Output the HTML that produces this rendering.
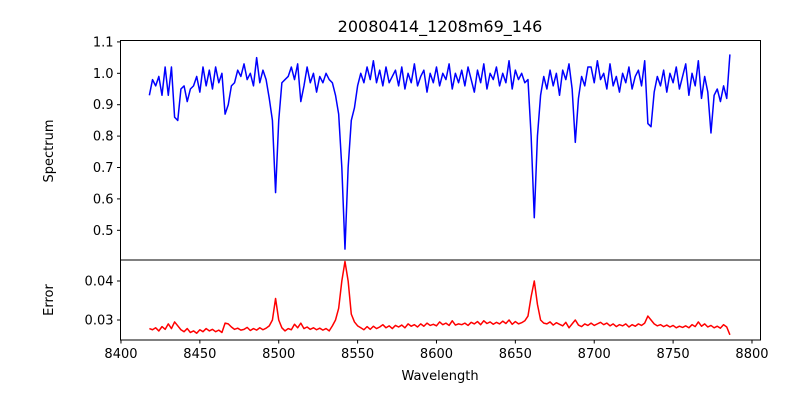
<!DOCTYPE html>
<html><head><meta charset="utf-8"><style>
body{margin:0;background:#fff;}
svg{display:block;font-family:"DejaVu Sans","Liberation Sans",sans-serif;}
</style></head><body>
<svg id="chart" width="800" height="400" viewBox="0 0 800 400" xmlns="http://www.w3.org/2000/svg">
<rect width="800" height="400" fill="#fff"/>
<text x="440" y="32" font-size="16" text-anchor="middle">20080414_1208m69_146</text>
<g id="topPanel"></g><g id="botPanel"></g>
<text transform="translate(53,151) rotate(-90)" font-size="13" text-anchor="middle">Spectrum</text>
<text transform="translate(53,300) rotate(-90)" font-size="13" text-anchor="middle">Error</text>
<text x="440" y="380" font-size="13" text-anchor="middle">Wavelength</text>
</svg>
<script>
const wlStart = 8418;
const wlStep = 2;
const spectrum = [
.93,.98,.96,.99,.93,1.02,.93,1.02,.86,.85,
.95,.96,.91,.95,.96,.99,.94,1.02,.96,1.01,
.95,1.02,.97,1.00,.87,.90,.96,.97,1.01,.99,
1.03,.98,1.00,.96,1.05,.97,1.01,.98,.92,.85,
.62,.85,.97,.98,.99,1.02,.98,1.03,.91,.96,
1.02,.97,1.00,.94,.99,.97,1.00,.98,.97,.93,
.87,.70,.44,.70,.85,.89,.96,1.00,.97,1.02,
.98,1.04,.97,1.01,.96,1.02,.97,.99,1.01,.96,
1.02,.95,1.00,.97,1.03,.96,.99,1.01,.94,1.00,
.97,1.02,.96,1.00,.98,1.03,.95,1.00,.97,1.01,
.96,1.02,.98,.94,1.01,.97,1.03,.95,1.00,.98,
1.02,.96,1.00,.97,1.04,.95,1.01,.98,1.00,.97,
.98,.80,.54,.80,.93,.99,.95,1.01,.96,1.00,
.93,1.01,.98,1.03,.95,.78,.92,.99,.96,1.02,
1.02,.97,1.04,.98,1.00,.95,1.03,.96,.99,.94,
1.00,.97,1.02,.95,.99,1.01,.96,1.04,.84,.83,
.94,.99,.96,1.01,.94,1.00,.97,1.02,.95,.99,
1.03,.93,1.00,.96,1.04,.92,.99,.94,.81,.93,
.95,.91,.96,.92,1.06];
const errorVals = [
.0278,.0275,.0280,.0272,.0283,.0276,.0290,.0278,.0295,.0285,
.0275,.0270,.0278,.0268,.0272,.0266,.0275,.0270,.0278,.0272,
.0276,.0270,.0274,.0268,.0292,.0290,.0282,.0276,.0279,.0274,
.0276,.0281,.0273,.0278,.0274,.0280,.0275,.0279,.0285,.0300,
.0355,.0300,.0280,.0272,.0278,.0275,.0289,.0280,.0292,.0278,
.0282,.0276,.0280,.0275,.0279,.0274,.0278,.0272,.0285,.0300,
.0330,.0400,.0450,.0400,.0315,.0295,.0285,.0280,.0275,.0283,
.0276,.0284,.0278,.0282,.0288,.0280,.0285,.0278,.0286,.0282,
.0287,.0280,.0290,.0284,.0288,.0282,.0290,.0284,.0292,.0286,
.0289,.0285,.0295,.0288,.0292,.0286,.0298,.0287,.0290,.0288,
.0292,.0286,.0294,.0290,.0296,.0288,.0298,.0291,.0295,.0289,
.0294,.0290,.0297,.0291,.0300,.0289,.0296,.0290,.0293,.0298,
.0310,.0360,.0400,.0340,.0300,.0292,.0290,.0295,.0287,.0293,
.0289,.0285,.0294,.0280,.0290,.0300,.0287,.0283,.0290,.0286,
.0292,.0286,.0290,.0294,.0288,.0292,.0285,.0290,.0283,.0288,
.0285,.0290,.0282,.0288,.0284,.0290,.0286,.0292,.0310,.0300,
.0290,.0285,.0288,.0283,.0287,.0282,.0286,.0280,.0284,.0281,
.0285,.0280,.0288,.0283,.0295,.0284,.0290,.0282,.0286,.0280,
.0284,.0279,.0288,.0282,.0262];
const xTicks = [8400,8450,8500,8550,8600,8650,8700,8750,8800];
const specTicks = [0.5,0.6,0.7,0.8,0.9,1.0,1.1];
const specTickLabels = ["0.5","0.6","0.7","0.8","0.9","1.0","1.1"];
const errTicks = [0.03,0.04];
const errTickLabels = ["0.03","0.04"];

const NS="http://www.w3.org/2000/svg";
const L=120.5,R=760.5,T1=40.5,B1=260,B2=340;
const xMin=8399.7,xMax=8805.4;
const xs=v=>L+(v-xMin)/(xMax-xMin)*(R-L);
const y1=v=>T1+(1.1045-v)/(1.1045-0.4054)*(B1-T1);
const y2=v=>B1+(0.04538-v)/(0.04538-0.02487)*(B2-B1);
function mk(tag,attrs,parent){const e=document.createElementNS(NS,tag);for(const k in attrs)e.setAttribute(k,attrs[k]);parent.appendChild(e);return e;}
const gTop=document.getElementById('topPanel'),gBot=document.getElementById('botPanel');
const wl=spectrum.map((_,i)=>wlStart+i*wlStep);
const sp=mk('polyline',{points:spectrum.map((v,i)=>xs(wl[i]).toFixed(2)+','+y1(v).toFixed(2)).join(' '),fill:'none',stroke:'#0000ff','stroke-width':1.5,'stroke-linejoin':'round'},gTop);


const er=mk('polyline',{points:errorVals.map((v,i)=>xs(wlStart+i*wlStep).toFixed(2)+','+y2(v).toFixed(2)).join(' '),fill:'none',stroke:'#ff0000','stroke-width':1.5,'stroke-linejoin':'round'},gBot);


const f1=mk('rect',{x:L,y:T1,width:R-L,height:B1-T1,fill:'none',stroke:'#000','stroke-width':1},gTop);


const f2=mk('rect',{x:L,y:B1,width:R-L,height:B2-B1,fill:'none',stroke:'#000','stroke-width':1},gBot);


specTicks.forEach((t,i)=>{const yy=y1(t);
 mk('line',{x1:L-3.5,x2:L,y1:yy,y2:yy,stroke:'#000'},gTop);
 const tx=mk('text',{x:L-7,y:yy+4.5,'font-size':13,'text-anchor':'end'},gTop);tx.textContent=specTickLabels[i];
 
 });
errTicks.forEach((t,i)=>{const yy=y2(t);
 mk('line',{x1:L-3.5,x2:L,y1:yy,y2:yy,stroke:'#000'},gBot);
 const tx=mk('text',{x:L-7,y:yy+4.5,'font-size':13,'text-anchor':'end'},gBot);tx.textContent=errTickLabels[i];
 
 });
xTicks.forEach(t=>{const xx=xs(t);
 mk('line',{x1:xx,x2:xx,y1:B2,y2:B2+3.5,stroke:'#000'},gBot);
 const tx=mk('text',{x:xx,y:B2+18,'font-size':13,'text-anchor':'middle'},gBot);tx.textContent=String(t);
 
 });
</script>
</body></html>
